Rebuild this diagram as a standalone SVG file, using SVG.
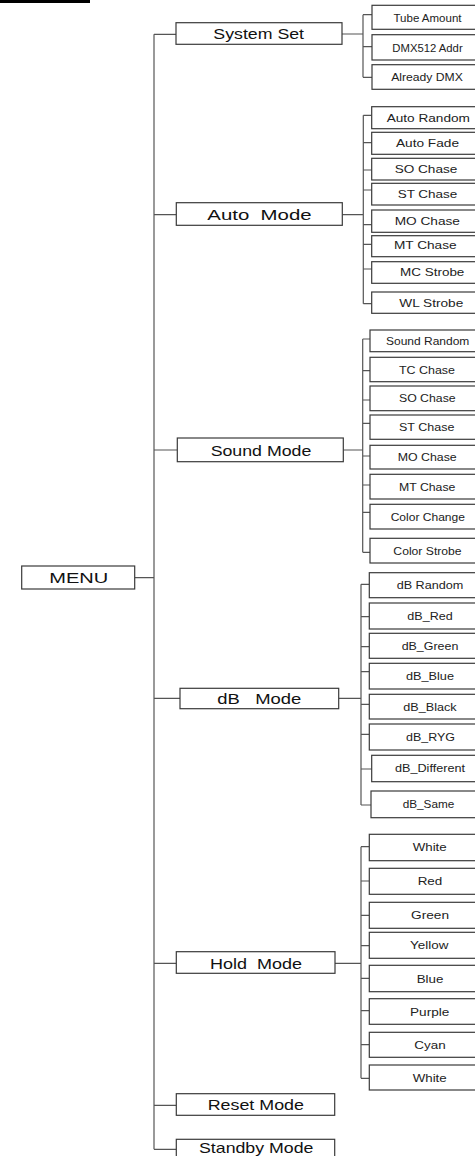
<svg xmlns="http://www.w3.org/2000/svg" width="475" height="1156" viewBox="0 0 475 1156">
<style>
.bx{fill:#fff;stroke:#3a3a3a;stroke-width:1.2}
.ln{fill:none;stroke:#555;stroke-width:1.2}
.mt{font-family:"Liberation Sans",Arial,sans-serif;font-size:15px;fill:#111;text-anchor:middle}
.st{font-family:"Liberation Sans",Arial,sans-serif;font-size:11px;fill:#222;text-anchor:middle}
</style>
<rect x="0" y="0" width="475" height="1156" fill="#fff"/>
<rect x="0" y="0" width="90" height="3" fill="#000"/>
<g id="connectors" class="ln">
<path d="M154,34.3V1149.3"/>
<path d="M154,34.3H176M154,214.7H176.3M154,450H177.3M154,698.3H180M154,963.3H176.3M154,1105.3H176.3M154,1149.3H176.3M135,577.7H154"/>
<path d="M342,34H363M363,14.7V77.3M363,14.7H372M363,46.7H372M363,77.3H372"/>
<path d="M342.3,214.7H363.3M363.3,115.3V303.7M363.3,115.3H371.7M363.3,142.7H371.7M363.3,170H371.7M363.3,190H371.7M363.3,224.7H371.7M363.3,244.3H371.7M363.3,269H371.7M363.3,303.7H371.7"/>
<path d="M343.3,450H362.7M362.7,339V552.3M362.7,339H370M362.7,370.7H370M362.7,400H370M362.7,423.3H370M362.7,456H370M362.7,485H370M362.7,512.3H370M362.7,552.3H370"/>
<path d="M338.7,698.3H361M361,584.3V805M361,584.3H369.3M361,616.7H369.3M361,646.7H369.3M361,671.7H369.3M361,704.3H369.3M361,734.3H369.3M361,769H371.7M361,805H371.7"/>
<path d="M335,963.3H361M361,846.7V1078.3M361,846.7H369.3M361,881H369.3M361,915.3H369.3M361,945.7H369.3M361,978.3H369.3M361,1010.7H369.3M361,1044.7H369.3M361,1078.3H369.3"/>
</g>
<g id="menu"><rect class="bx" x="21.7" y="566" width="113" height="23"/><text class="mt" x="78.8" y="583" font-size="14" textLength="59" lengthAdjust="spacingAndGlyphs">MENU</text></g>
<g id="system-set"><rect class="bx" x="176" y="22.7" width="166" height="21.6"/><text class="mt" x="258.7" y="39.3" textLength="90.7" lengthAdjust="spacingAndGlyphs">System Set</text></g>
<g id="auto-mode"><rect class="bx" x="176.3" y="202.7" width="166" height="22.6"/><text class="mt" x="259.5" y="220" font-size="16" textLength="104.3" lengthAdjust="spacingAndGlyphs" xml:space="preserve">Auto  Mode</text></g>
<g id="sound-mode"><rect class="bx" x="177.3" y="438" width="166" height="23.7"/><text class="mt" x="261" y="455.7" font-size="16" textLength="100.7" lengthAdjust="spacingAndGlyphs">Sound Mode</text></g>
<g id="db-mode"><rect class="bx" x="180" y="688.3" width="158.7" height="20.4"/><text class="mt" x="259.3" y="703.8" textLength="84" lengthAdjust="spacingAndGlyphs" xml:space="preserve">dB   Mode</text></g>
<g id="hold-mode"><rect class="bx" x="176.3" y="951.7" width="158.7" height="21.6"/><text class="mt" x="256" y="968.5" font-size="16" textLength="92" lengthAdjust="spacingAndGlyphs" xml:space="preserve">Hold  Mode</text></g>
<g id="reset-mode"><rect class="bx" x="176.3" y="1093.7" width="158.4" height="21.6"/><text class="mt" x="255.8" y="1110.3" font-size="16" textLength="96.3" lengthAdjust="spacingAndGlyphs">Reset Mode</text></g>
<g id="standby-mode"><rect class="bx" x="176.3" y="1139.3" width="158.4" height="22"/><text class="mt" x="256.2" y="1152.5" font-size="15" textLength="114.3" lengthAdjust="spacingAndGlyphs">Standby Mode</text></g>

<g id="tube-amount"><rect class="bx" x="372" y="5.3" width="120" height="24"/><text class="st" x="427.5" y="21.8" textLength="68" lengthAdjust="spacingAndGlyphs">Tube Amount</text></g>
<g id="dmx512-addr"><rect class="bx" x="372" y="34.7" width="120" height="25.3"/><text class="st" x="427.5" y="51.5" textLength="70.3" lengthAdjust="spacingAndGlyphs">DMX512 Addr</text></g>
<g id="already-dmx"><rect class="bx" x="372" y="64.7" width="120" height="24.6"/><text class="st" x="427" y="81" textLength="71.7" lengthAdjust="spacingAndGlyphs">Already DMX</text></g>

<g id="auto-random"><rect class="bx" x="371.7" y="106.7" width="120" height="22"/><text class="st" x="428.3" y="121.8" textLength="83.3" lengthAdjust="spacingAndGlyphs">Auto Random</text></g>
<g id="auto-fade"><rect class="bx" x="371.7" y="132.3" width="120" height="22"/><text class="st" x="427.5" y="147.4" textLength="63" lengthAdjust="spacingAndGlyphs">Auto Fade</text></g>
<g id="auto-so-chase"><rect class="bx" x="371.7" y="158.3" width="120" height="21.7"/><text class="st" x="426" y="173.2" textLength="62.7" lengthAdjust="spacingAndGlyphs">SO Chase</text></g>
<g id="auto-st-chase"><rect class="bx" x="371.7" y="183.3" width="120" height="21.7"/><text class="st" x="427.5" y="198.2" textLength="59.7" lengthAdjust="spacingAndGlyphs">ST Chase</text></g>
<g id="auto-mo-chase"><rect class="bx" x="371.7" y="210" width="120" height="22.3"/><text class="st" x="427.3" y="225.2" textLength="65.3" lengthAdjust="spacingAndGlyphs">MO Chase</text></g>
<g id="auto-mt-chase"><rect class="bx" x="371.7" y="235.7" width="120" height="21"/><text class="st" x="425.3" y="249.2" textLength="62.7" lengthAdjust="spacingAndGlyphs">MT Chase</text></g>
<g id="auto-mc-strobe"><rect class="bx" x="371.7" y="261.7" width="120" height="21.6"/><text class="st" x="432.2" y="276.3" textLength="64.3" lengthAdjust="spacingAndGlyphs">MC Strobe</text></g>
<g id="auto-wl-strobe"><rect class="bx" x="371.7" y="292" width="120" height="21.3"/><text class="st" x="431.3" y="306.8" textLength="64" lengthAdjust="spacingAndGlyphs">WL Strobe</text></g>

<g id="sound-random"><rect class="bx" x="370" y="330" width="120" height="21.7"/><text class="st" x="427.7" y="344.8" textLength="83.3" lengthAdjust="spacingAndGlyphs">Sound Random</text></g>
<g id="sound-tc-chase"><rect class="bx" x="370" y="357.3" width="120" height="24.4"/><text class="st" x="427" y="373.5" textLength="56" lengthAdjust="spacingAndGlyphs">TC Chase</text></g>
<g id="sound-so-chase"><rect class="bx" x="370" y="386" width="120" height="24.7"/><text class="st" x="427.3" y="402.3" textLength="56.7" lengthAdjust="spacingAndGlyphs">SO Chase</text></g>
<g id="sound-st-chase"><rect class="bx" x="370" y="415" width="120" height="24.3"/><text class="st" x="426.7" y="431.2" textLength="55.3" lengthAdjust="spacingAndGlyphs">ST Chase</text></g>
<g id="sound-mo-chase"><rect class="bx" x="370" y="445.3" width="120" height="23.7"/><text class="st" x="427.2" y="461.2" textLength="59" lengthAdjust="spacingAndGlyphs">MO Chase</text></g>
<g id="sound-mt-chase"><rect class="bx" x="370" y="474.3" width="120" height="24.7"/><text class="st" x="427.2" y="490.7" textLength="56.3" lengthAdjust="spacingAndGlyphs">MT Chase</text></g>
<g id="color-change"><rect class="bx" x="370" y="504.3" width="120" height="24.7"/><text class="st" x="427.8" y="520.7" textLength="74.3" lengthAdjust="spacingAndGlyphs">Color Change</text></g>
<g id="color-strobe"><rect class="bx" x="370" y="538.3" width="120" height="24.7"/><text class="st" x="427.5" y="554.7" textLength="68.3" lengthAdjust="spacingAndGlyphs">Color Strobe</text></g>

<g id="db-random"><rect class="bx" x="369.3" y="572.7" width="120" height="25"/><text class="st" x="430" y="589" textLength="66.7" lengthAdjust="spacingAndGlyphs">dB Random</text></g>
<g id="db-red"><rect class="bx" x="369.3" y="603" width="120" height="26"/><text class="st" x="430" y="619.8" textLength="45.3" lengthAdjust="spacingAndGlyphs">dB_Red</text></g>
<g id="db-green"><rect class="bx" x="369.3" y="633.3" width="120" height="25"/><text class="st" x="430" y="649.7" textLength="56.7" lengthAdjust="spacingAndGlyphs">dB_Green</text></g>
<g id="db-blue"><rect class="bx" x="369.3" y="663.3" width="120" height="25.7"/><text class="st" x="430" y="679.8" textLength="48" lengthAdjust="spacingAndGlyphs">dB_Blue</text></g>
<g id="db-black"><rect class="bx" x="369.3" y="694.3" width="120" height="24.7"/><text class="st" x="430" y="710.5" textLength="53.3" lengthAdjust="spacingAndGlyphs">dB_Black</text></g>
<g id="db-ryg"><rect class="bx" x="369.3" y="724" width="120" height="26"/><text class="st" x="430.5" y="740.8" textLength="49" lengthAdjust="spacingAndGlyphs">dB_RYG</text></g>
<g id="db-different"><rect class="bx" x="371.7" y="755.3" width="120" height="26.4"/><text class="st" x="430" y="772.2" textLength="70" lengthAdjust="spacingAndGlyphs">dB_Different</text></g>
<g id="db-same"><rect class="bx" x="371" y="791" width="120" height="26.7"/><text class="st" x="428.5" y="808.2" textLength="51.7" lengthAdjust="spacingAndGlyphs">dB_Same</text></g>

<g id="white-1"><rect class="bx" x="369.3" y="834.3" width="120" height="26.4"/><text class="st" x="429.7" y="851.3" font-size="11.5" textLength="34" lengthAdjust="spacingAndGlyphs">White</text></g>
<g id="red"><rect class="bx" x="369.3" y="868.3" width="120" height="26"/><text class="st" x="430" y="885.3" font-size="11.5" textLength="24.7" lengthAdjust="spacingAndGlyphs">Red</text></g>
<g id="green"><rect class="bx" x="369.3" y="902.3" width="120" height="26"/><text class="st" x="430" y="919.3" font-size="11.5" textLength="38" lengthAdjust="spacingAndGlyphs">Green</text></g>
<g id="yellow"><rect class="bx" x="369.3" y="932.3" width="120" height="26"/><text class="st" x="429.2" y="949.3" font-size="11.5" textLength="38.3" lengthAdjust="spacingAndGlyphs">Yellow</text></g>
<g id="blue"><rect class="bx" x="369.3" y="965.3" width="120" height="26.4"/><text class="st" x="430" y="982.5" font-size="11.5" textLength="26.7" lengthAdjust="spacingAndGlyphs">Blue</text></g>
<g id="purple"><rect class="bx" x="369.3" y="998.7" width="120" height="25.6"/><text class="st" x="429.7" y="1015.5" font-size="11.5" textLength="39.3" lengthAdjust="spacingAndGlyphs">Purple</text></g>
<g id="cyan"><rect class="bx" x="369.3" y="1032.3" width="120" height="25"/><text class="st" x="430" y="1048.8" font-size="11.5" textLength="31.3" lengthAdjust="spacingAndGlyphs">Cyan</text></g>
<g id="white-2"><rect class="bx" x="369.3" y="1065" width="120" height="25"/><text class="st" x="429.7" y="1081.5" font-size="11.5" textLength="34" lengthAdjust="spacingAndGlyphs">White</text></g>
</svg>
